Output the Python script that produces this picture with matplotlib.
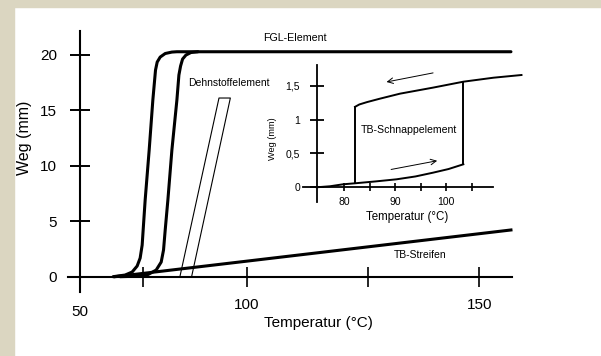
"""Weg-Temperatur-Kennlinien verschiedener Thermo-Aktoren (Schema)."""

import matplotlib
matplotlib.use('Agg')
import matplotlib.pyplot as plt
from matplotlib.patches import Rectangle

plt.rcParams['font.family'] = ['Liberation Sans', 'DejaVu Sans']

# FGL-Element: two switching curves (temperature in degC, travel in mm)
fgl1_t = [59.9, 63.5, 65.6, 67.1, 68.0, 68.6, 68.9, 69.5, 70.7, 71.8, 72.6,
          73.1, 74.0, 75.5, 77.5, 79.0, 179.0]
fgl1_s = [0.0, 0.15, 0.42, 0.96, 1.68, 2.85, 4.21, 6.91, 11.41, 15.92, 18.62,
          19.34, 19.79, 20.11, 20.24, 20.27, 20.27]
fgl2_t = [62.0, 66.5, 70.4, 72.8, 74.3, 75.0, 75.5, 76.3, 77.5, 79.0, 79.6,
          80.1, 80.7, 81.7, 83.2, 85.3]
fgl2_s = [0.0, 0.04, 0.2, 0.6, 1.32, 2.41, 4.21, 6.91, 11.41, 15.92, 18.17,
          18.98, 19.61, 19.97, 20.2, 20.27]

# Dehnstoffelement (outline)
dehn_t = [79.9, 91.6, 95.0, 83.4]
dehn_s = [0.0, 16.1, 16.1, 0.0]

# TB-Streifen (bimetal strip)
strip_t = [60.5, 179.0]
strip_s = [0.0, 4.21]

# Inset: TB-Schnappelement hysteresis
snap_low_t = [74.65, 77.25, 79.8, 82.16, 86.1, 90.3, 94.0, 97.45, 100.5, 103.4]
snap_low_s = [0.0, 0.015, 0.044, 0.059, 0.086, 0.118, 0.16, 0.216, 0.27, 0.34]
snap_up_t = [82.16, 83.0, 84.5, 87.0, 90.98, 97.5, 103.4, 109.3, 114.8]
snap_up_s = [1.19, 1.225, 1.26, 1.31, 1.385, 1.475, 1.562, 1.621, 1.661]
snap_off_t = 82.16
snap_on_t = 103.4

main_yticks = [0, 5, 10, 15, 20]
main_xticks = [69, 100, 136.2, 169.5]
main_xlabels = ['', '100', '', '150']
inset_xticks = [80, 85, 90, 95, 100, 105]
inset_xlabels = ['80', '', '90', '', '100', '']
inset_yticks = [0, 0.5, 1, 1.5]
inset_ylabels = ['0', '0,5', '1', '1,5']

W, H = 601, 356
fig = plt.figure(figsize=(W / 100, H / 100), dpi=100)
fig.patch.set_facecolor('white')

# beige frame on top and left
beige = '#dbd6c1'
fig.patches.append(Rectangle((0, 1 - 7 / H), 1, 7 / H, transform=fig.transFigure,
                             color=beige, zorder=0))
fig.patches.append(Rectangle((0, 0), 14 / W, 1, transform=fig.transFigure,
                             color=beige, zorder=0))

# ---- main chart ----
ax = fig.add_axes([40 / W, 56 / H, 490 / W, 280 / H])
ax.patch.set_alpha(0)
ax.set_xlim(38.02, 184.7)
ax.set_ylim(-2.1, 23.13)

for s in ['top', 'right']:
    ax.spines[s].set_visible(False)
ax.spines['left'].set_position(('data', 50))
ax.spines['left'].set_bounds(-1.35, 22.1)
ax.spines['bottom'].set_position(('data', 0))
ax.spines['bottom'].set_bounds(46.4, 179.3)
for s in ['left', 'bottom']:
    ax.spines[s].set_linewidth(1.5)

ax.set_yticks(main_yticks)
ax.set_yticklabels([str(v) for v in main_yticks])
ax.set_xticks(main_xticks)
ax.set_xticklabels(main_xlabels)
ax.tick_params(axis='y', direction='inout', length=15, width=1.4, pad=9,
               labelsize=11)
ax.tick_params(axis='x', direction='inout', length=14.4, width=1.2, pad=8,
               labelsize=11)

ax.plot(fgl1_t, fgl1_s, color='black', lw=2.2, solid_capstyle='round')
ax.plot(fgl2_t, fgl2_s, color='black', lw=2.2, solid_capstyle='round')
ax.plot(strip_t, strip_s, color='black', lw=2.2)
ax.plot(dehn_t, dehn_s, color='black', lw=0.8)

ax.text(50, -3.15, '50', ha='center', va='center', fontsize=11)
ax.text(121.3, -4.17, 'Temperatur (°C)', ha='center', va='center', fontsize=11)
ax.text(33.4, 12.54, 'Weg (mm)', ha='center', va='center', fontsize=11.5,
        rotation=90)
ax.text(114.4, 21.5, 'FGL-Element', ha='center', va='center', fontsize=7.7)
ax.text(94.6, 17.45, 'Dehnstoffelement', ha='center', va='center', fontsize=7.5)
ax.text(151.7, 1.95, 'TB-Streifen', ha='center', va='center', fontsize=7.5)

# ---- inset ----
ins = fig.add_axes([280 / W, 126 / H, 250 / W, 170 / H])
ins.patch.set_alpha(0)
ins.set_xlim(67.45, 116.47)
ins.set_ylim(-0.632, 1.883)
for s in ['top', 'right']:
    ins.spines[s].set_visible(False)
ins.spines['left'].set_position(('data', 74.7))
ins.spines['left'].set_bounds(-0.217, 1.81)
ins.spines['bottom'].set_position(('data', 0))
ins.spines['bottom'].set_bounds(72.0, 109.2)
for s in ['left', 'bottom']:
    ins.spines[s].set_linewidth(1.3)

ins.set_xticks(inset_xticks)
ins.set_xticklabels(inset_xlabels)
ins.set_yticks(inset_yticks)
ins.set_yticklabels(inset_ylabels)
ins.tick_params(axis='y', direction='inout', length=9.4, width=1.3, pad=7.5,
                labelsize=7.5)
ins.tick_params(axis='x', direction='inout', length=5.8, width=1.2, pad=4.3,
                labelsize=7.5)

ins.plot(snap_low_t, snap_low_s, color='black', lw=1.4)
ins.plot(snap_up_t, snap_up_s, color='black', lw=1.4)
ins.plot([snap_off_t, snap_off_t], [snap_low_s[3], snap_up_s[0]], color='black', lw=1.4)
ins.plot([snap_on_t, snap_on_t], [snap_low_s[-1], snap_up_s[6]], color='black', lw=1.4)

ins.annotate('', xy=(87.8, 1.55), xytext=(98.0, 1.70),
             arrowprops=dict(arrowstyle='->', lw=0.7, color='black'))
ins.annotate('', xy=(98.8, 0.40), xytext=(88.7, 0.256),
             arrowprops=dict(arrowstyle='->', lw=0.7, color='black'))

ins.text(92.67, 0.847, 'TB-Schnappelement', ha='center', va='center', fontsize=7.6)
ins.text(92.45, -0.435, 'Temperatur (°C)', ha='center', va='center', fontsize=8.3)
ins.text(65.9, 0.722, 'Weg (mm)', ha='center', va='center', fontsize=6.6,
         rotation=90)

fig.savefig('out.png', dpi=100, facecolor='white')
plt.close(fig)
